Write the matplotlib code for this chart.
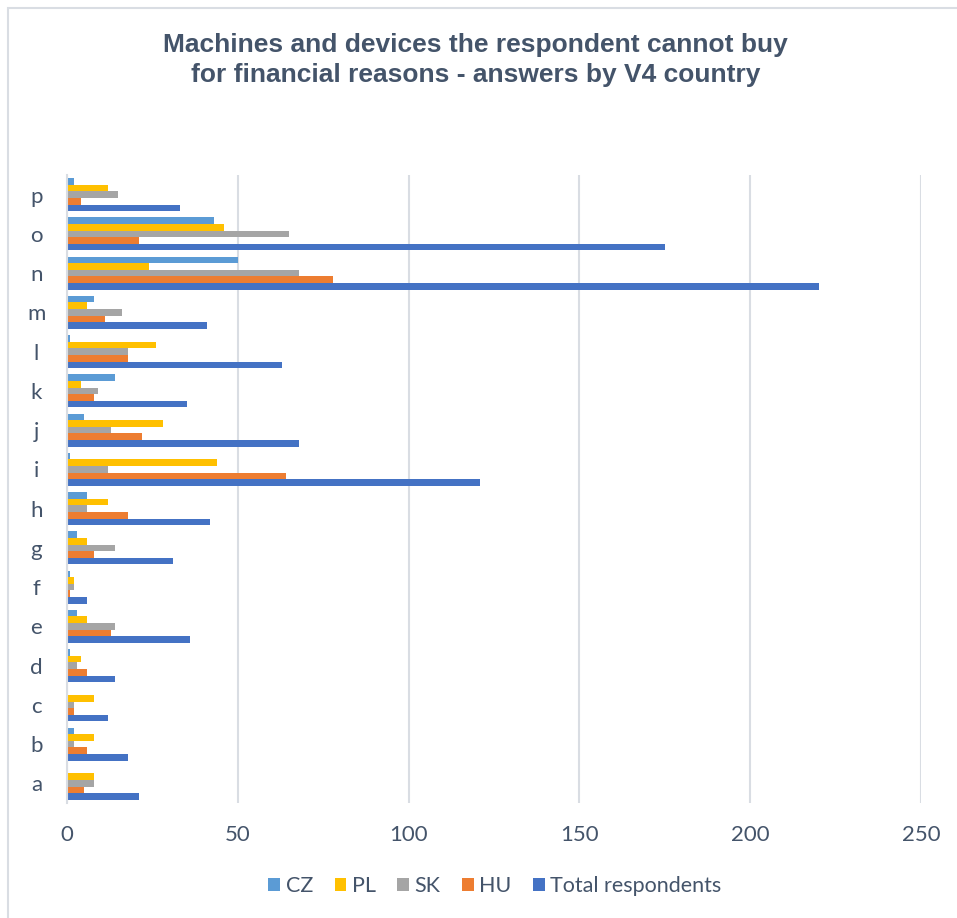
import numpy as np
import matplotlib.pyplot as plt
from matplotlib.patches import Rectangle

# items a..p, answers per V4 country and in total
items = list("abcdefghijklmnop")
cz = [0, 2, 0, 1, 3, 1, 3, 6, 1, 5, 14, 1, 8, 50, 43, 2]
pl = [8, 8, 8, 4, 6, 2, 6, 12, 44, 28, 4, 26, 6, 24, 46, 12]
sk = [8, 2, 2, 3, 14, 2, 14, 6, 12, 13, 9, 18, 16, 68, 65, 15]
hu = [5, 6, 2, 6, 13, 1, 8, 18, 64, 22, 8, 18, 11, 78, 21, 4]
total = [21, 18, 12, 14, 36, 6, 31, 42, 121, 68, 35, 63, 41, 220, 175, 33]

series = [("CZ", cz, "#5b9bd5"), ("PL", pl, "#ffc000"), ("SK", sk, "#a5a5a5"),
          ("HU", hu, "#ed7d31"), ("Total respondents", total, "#4472c4")]

txt = "#44546a"
W, H = 957, 918
fig = plt.figure(figsize=(W / 100, H / 100), dpi=100)
fig.patches.append(Rectangle((8 / W, -0.1), 1.2, 1 - 8 / H + 0.1, transform=fig.transFigure,
                             fill=False, edgecolor="#d9dde3", linewidth=1.5))

ax = fig.add_axes([67 / W, 1 - 803 / H, (921 - 67) / W, (803 - 175) / H])

y = np.arange(len(items))
h = 0.168
for i, (name, vals, col) in enumerate(series):
    off = (2 - i) * h
    ax.barh(y + off, vals, height=h, color=col, label=name, linewidth=0)

ax.set_xlim(0, 250)
ax.set_ylim(-0.5, len(items) - 0.5)
ax.set_xticks(range(0, 251, 50))
ax.set_yticks(y)
ax.set_yticklabels(items)
ax.grid(axis="x", color="#d9dde3", linewidth=1.5)
ax.set_axisbelow(True)
for s in ["top", "right", "bottom"]:
    ax.spines[s].set_visible(False)
ax.spines["left"].set_color("#d9dde3")
ax.spines["left"].set_linewidth(1.5)
ax.tick_params(axis="both", length=0, labelsize=16, labelcolor=txt)
ax.tick_params(axis="x", pad=16)
ax.tick_params(axis="y", pad=22)
for lab in ax.get_xticklabels() + ax.get_yticklabels():
    lab.set_fontfamily("Lato")
for lab in ax.get_yticklabels():
    lab.set_horizontalalignment("center")

fig.text(0.497, 1 - 60 / H, "Machines and devices the respondent cannot buy\nfor financial reasons - answers by V4 country",
         ha="center", va="center", fontsize=19, fontweight="bold", color=txt,
         family="Liberation Sans", linespacing=1.3)

leg = ax.legend(loc="center", bbox_to_anchor=(495 / W, 1 - 886 / H), bbox_transform=fig.transFigure,
                ncol=5, frameon=False, handlelength=0.55, handleheight=0.55, handletextpad=0.25,
                columnspacing=1.0, prop={"family": "Lato", "size": 15.5})
for t in leg.get_texts():
    t.set_color(txt)

fig.savefig("out.png", dpi=100)
